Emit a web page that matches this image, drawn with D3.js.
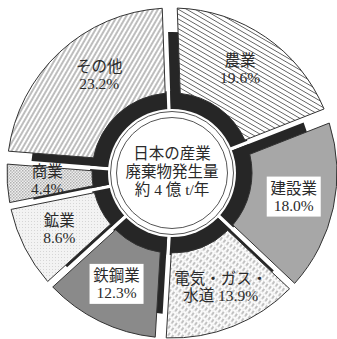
<!DOCTYPE html>
<html><head><meta charset="utf-8">
<script src="https://cdn.jsdelivr.net/npm/d3@7"></script>
<style>
  html,body{margin:0;padding:0;background:#fff;}
  svg{display:block;}
  text{font-family:"Liberation Serif","Noto Sans CJK JP",serif;fill:#2a2a2a;}
</style>
</head><body>
<svg id="chart" width="337" height="339"></svg>
<script>
// Industrial waste generated in Japan, share by sector (%)
const categories = ["農業", "建設業", "電気・ガス・水道", "鉄鋼業", "鉱業", "商業", "その他"];
const shares = [19.6, 18.0, 13.9, 12.3, 8.6, 4.4, 23.2];
// how each category name is broken over label lines
const nameLines = [["農業"], ["建設業"], ["電気・ガス・", "水道"], ["鉄鋼業"], ["鉱業"], ["商業"], ["その他"]];
const centerLines = ["日本の産業", "廃棄物発生量", "約 4 億 t/年"];

const cx = 172, cy = 173;
const deg = Math.PI / 180;

const svg = d3.select("#chart");
const defs = svg.append("defs");

// fills
function linePattern(id, angle, gap, color, width) {
  const p = defs.append("pattern").attr("id", id).attr("patternUnits", "userSpaceOnUse")
    .attr("width", gap).attr("height", gap).attr("patternTransform", `rotate(${angle})`);
  p.append("rect").attr("width", gap).attr("height", gap).attr("fill", "#fff");
  p.append("line").attr("x1", 0).attr("x2", gap).attr("y1", gap / 2).attr("y2", gap / 2)
    .attr("stroke", color).attr("stroke-width", width);
}
linePattern("hatchDown", 30, 4.2, "#5a5a5a", 0.8);   // 農業
linePattern("hatchUp", -60, 4.0, "#5a5a5a", 0.8);    // その他

const util = defs.append("pattern").attr("id", "dashHatch").attr("patternUnits", "userSpaceOnUse")
  .attr("width", 4).attr("height", 6).attr("patternTransform", "rotate(35)");
util.append("rect").attr("width", 4).attr("height", 6).attr("fill", "#fbfbfb");
util.append("line").attr("x1", 2).attr("x2", 2).attr("y1", 0).attr("y2", 3.6)
  .attr("stroke", "#6a6a6a").attr("stroke-width", 0.8);
util.append("circle").attr("cx", 0).attr("cy", 4.9).attr("r", 0.45).attr("fill", "#777");

const trade = defs.append("pattern").attr("id", "checker").attr("patternUnits", "userSpaceOnUse")
  .attr("width", 3).attr("height", 3);
trade.append("rect").attr("width", 3).attr("height", 3).attr("fill", "#eeeeee");
trade.append("rect").attr("width", 1.5).attr("height", 1.5).attr("fill", "#b0b0b0");
trade.append("rect").attr("x", 1.5).attr("y", 1.5).attr("width", 1.5).attr("height", 1.5).attr("fill", "#bdbdbd");

const mine = defs.append("pattern").attr("id", "stipple").attr("patternUnits", "userSpaceOnUse")
  .attr("width", 3).attr("height", 3);
mine.append("rect").attr("width", 3).attr("height", 3).attr("fill", "#f3f3f3");
mine.append("rect").attr("width", 1).attr("height", 1).attr("fill", "#d6d6d6");

const fills = ["url(#hatchDown)", "#a7a7a7", "url(#dashHatch)", "#8a8a8a", "url(#stipple)", "url(#checker)", "url(#hatchUp)"];
const boxedLabel = [false, true, false, true, false, false, false];
// width of the dark side face showing along each sector's leading edge (px)
const sideWidth = [10, 10, 2.5, 6, 2.5, 2, 8];

// ring geometry
const R = 165, rInner = 80, rShadowOut = R - 24, gap = 1, trail = 4;

const pie = d3.pie().sort(null).startAngle(-2 * deg).endAngle(358 * deg);
const arcs = pie(shares);

// Annular sector whose straight sides run parallel to the radial lines at a0/a1,
// set in by d0 / d1 pixels (gives constant-width gaps).
function sectorPath(a0, a1, r0, r1, d0, d1) {
  const s = a => a - Math.PI / 2;
  const o0 = a0 + Math.asin(d0 / r1), o1 = a1 - Math.asin(d1 / r1);
  const i0 = a0 + Math.asin(d0 / r0), i1 = a1 - Math.asin(d1 / r0);
  const p = d3.path();
  p.moveTo(r1 * Math.cos(s(o0)), r1 * Math.sin(s(o0)));
  p.arc(0, 0, r1, s(o0), s(o1), false);
  p.lineTo(r0 * Math.cos(s(i1)), r0 * Math.sin(s(i1)));
  p.arc(0, 0, r0, s(i1), s(i0), true);
  p.closePath();
  return p.toString();
}

const g = svg.append("g").attr("transform", `translate(${cx},${cy})`);

// dark side faces: a ring part reaching to the gaps, and a band along each leading edge
const shadow = g.append("g").attr("fill", "#262626");
shadow.selectAll("path.ring").data(arcs).join("path").attr("class", "ring")
  .attr("d", d => sectorPath(d.startAngle, d.endAngle, 40, rInner + 2, gap, 2.5));
shadow.selectAll("path.side").data(arcs).join("path").attr("class", "side")
  .attr("d", d => sectorPath(d.startAngle, d.endAngle, 40, rShadowOut, gap, trail + 1));

// hub
g.append("circle").attr("r", 64).attr("fill", "#fff");
g.append("circle").attr("r", 61.5).attr("fill", "none").attr("stroke", "#555").attr("stroke-width", 1);
g.append("circle").attr("r", 55.5).attr("fill", "#fff").attr("stroke", "#555").attr("stroke-width", 1);

// faces
g.selectAll("path.face").data(arcs).join("path").attr("class", "face")
  .attr("d", (d, i) => sectorPath(d.startAngle, d.endAngle, rInner, R, gap + sideWidth[i], trail))
  .attr("fill", (d, i) => fills[i])
  .attr("stroke", "#333").attr("stroke-width", 1).attr("stroke-linejoin", "round");

// labels
const labelR = [124, 124, 124, 124, 124, 127, 124];
const nudge = [[0, 0], [0, 0], [3, -1], [-2, -1], [-2, 0], [2, -1], [13, -8]];
const lineH = 17, fs = 15.5;
arcs.forEach((d, i) => {
  const mid = (d.startAngle + d.endAngle) / 2;
  const x = labelR[i] * Math.sin(mid) + nudge[i][0];
  const y = -labelR[i] * Math.cos(mid) + nudge[i][1];
  const pct = d3.format(".1f")(shares[i]) + "%";
  const lines = nameLines[i].length > 1
    ? [...nameLines[i].slice(0, -1), nameLines[i][nameLines[i].length - 1] + " " + pct]
    : [nameLines[i][0], pct];
  const lg = g.append("g").attr("transform", `translate(${x},${y})`);
  if (boxedLabel[i]) {
    const w = 54, h = lines.length * lineH + 6;
    lg.append("rect").attr("x", -w / 2).attr("y", -h / 2).attr("width", w).attr("height", h)
      .attr("fill", "#fff");
  }
  lines.forEach((t, k) => {
    lg.append("text").attr("x", 0).attr("y", (k - (lines.length - 1) / 2) * lineH)
      .attr("text-anchor", "middle").attr("dominant-baseline", "central")
      .attr("font-size", fs).text(t);
  });
});

// centre caption
centerLines.forEach((t, k) => {
  g.append("text").attr("x", 0).attr("y", (k - 1) * 18 - 2)
    .attr("text-anchor", "middle").attr("dominant-baseline", "central")
    .attr("font-size", 15.5).text(t);
});
</script>
</body></html>
